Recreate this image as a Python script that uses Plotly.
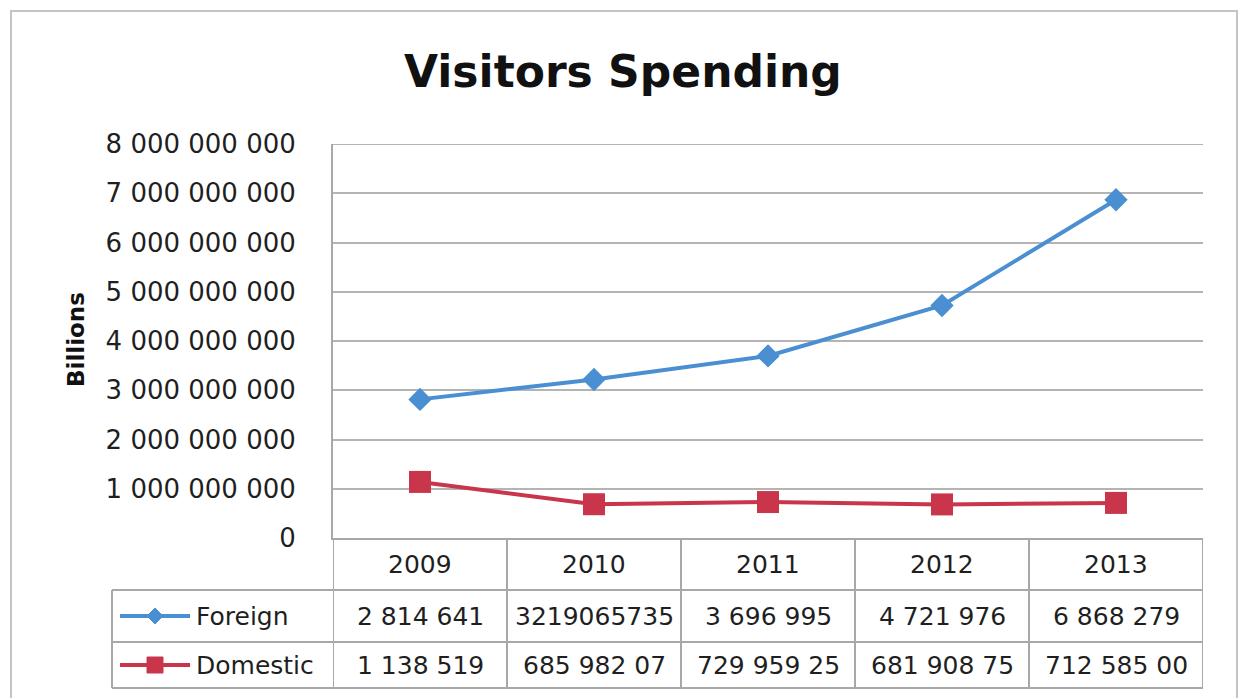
import plotly.graph_objects as go

# ---- data -------------------------------------------------------------
years = ["2009", "2010", "2011", "2012", "2013"]
foreign = [2814641000, 3219065735, 3696995000, 4721976000, 6868279000]
domestic = [1138519000, 685982070, 729959250, 681908750, 712585000]

# values as printed in the data table under the chart
foreign_table = ["2 814 641", "3219065735", "3 696 995", "4 721 976", "6 868 279"]
domestic_table = ["1 138 519", "685 982 07", "729 959 25", "681 908 75", "712 585 00"]

series_names = ["Foreign", "Domestic"]
y_ticks = [0, 1e9, 2e9, 3e9, 4e9, 5e9, 6e9, 7e9, 8e9]

# ---- layout geometry ---------------------------------------------------
W, H = 1240, 698
M_L, M_R, M_T, M_B = 333, 37, 144, 160
PW = W - M_L - M_R
PH = H - M_T - M_B


def px_x(p):
    """pixel column -> paper x"""
    return (p - M_L) / PW


def px_y(p):
    """pixel row -> paper y"""
    return (H - M_B - p) / PH


BLUE = "#4a8fd1"
RED = "#c9364b"
GRID = "#b4b4b4"
BORDER = "#a8a8a8"
TXT = "#1f1f1f"
FONT = "DejaVu Sans"

fig = go.Figure()
fig.add_trace(go.Scatter(
    x=years, y=foreign, name=series_names[0], mode="lines+markers",
    line=dict(color=BLUE, width=4),
    marker=dict(symbol="diamond", size=18, color=BLUE),
    cliponaxis=False,
))
fig.add_trace(go.Scatter(
    x=years, y=domestic, name=series_names[1], mode="lines+markers",
    line=dict(color=RED, width=4),
    marker=dict(symbol="square", size=22, color=RED),
    cliponaxis=False,
))

shapes = []
annotations = []

# top gridline (at the upper end of the value range)
shapes.append(dict(type="line", xref="paper", yref="y", x0=0, x1=1,
                   y0=y_ticks[-1], y1=y_ticks[-1],
                   line=dict(color=GRID, width=2), layer="below"))

# table rows (pixel rows of the row borders)
ROW_TOP = H - M_B          # header row starts at the x axis line
ROW_1 = 590
ROW_2 = 642
ROW_BOT = 688
TABLE_LEFT = 112

# vertical cell borders at category boundaries
for i in range(len(years) + 1):
    shapes.append(dict(type="line", xref="x", yref="paper",
                       x0=i - 0.5, x1=i - 0.5, y0=px_y(ROW_TOP), y1=px_y(ROW_BOT),
                       line=dict(color=BORDER, width=2)))
# left border of the series-name column
shapes.append(dict(type="line", xref="paper", yref="paper",
                   x0=px_x(TABLE_LEFT), x1=px_x(TABLE_LEFT),
                   y0=px_y(ROW_1), y1=px_y(ROW_BOT),
                   line=dict(color=BORDER, width=2)))
# horizontal borders
for r in (ROW_1, ROW_2, ROW_BOT):
    shapes.append(dict(type="line", xref="paper", yref="paper",
                       x0=px_x(TABLE_LEFT), x1=1, y0=px_y(r), y1=px_y(r),
                       line=dict(color=BORDER, width=2)))

# header row: years
for i, yr in enumerate(years):
    annotations.append(dict(x=i, y=px_y((ROW_TOP + ROW_1) / 2), xref="x", yref="paper",
                            text=yr, showarrow=False, xanchor="center", yanchor="middle",
                            font=dict(family=FONT, size=25, color=TXT)))

# data rows
rows = [(foreign_table, (ROW_1 + ROW_2) / 2, BLUE, "diamond"),
        (domestic_table, (ROW_2 + ROW_BOT) / 2, RED, "square")]
for (texts, yc, col, sym), name in zip(rows, series_names):
    for i, t in enumerate(texts):
        annotations.append(dict(x=i, y=px_y(yc), xref="x", yref="paper",
                                text=t, showarrow=False, xanchor="center", yanchor="middle",
                                font=dict(family=FONT, size=25, color=TXT)))
    # legend key: line with marker
    shapes.append(dict(type="line", xref="paper", yref="paper",
                       x0=px_x(120), x1=px_x(190), y0=px_y(yc), y1=px_y(yc),
                       line=dict(color=col, width=4)))
    cx, cy = 155, yc
    if sym == "diamond":
        r = 8
        path = "M {},{} L {},{} L {},{} L {},{} Z".format(
            px_x(cx - r), px_y(cy), px_x(cx), px_y(cy - r),
            px_x(cx + r), px_y(cy), px_x(cx), px_y(cy + r))
        shapes.append(dict(type="path", xref="paper", yref="paper", path=path,
                           fillcolor=col, line=dict(color=col, width=1)))
    else:
        r = 8
        shapes.append(dict(type="rect", xref="paper", yref="paper",
                           x0=px_x(cx - r), x1=px_x(cx + r),
                           y0=px_y(cy + r), y1=px_y(cy - r),
                           fillcolor=col, line=dict(color=col, width=1)))
    annotations.append(dict(x=px_x(194), y=px_y(yc), xref="paper", yref="paper",
                            text=name, showarrow=False, xanchor="left", yanchor="middle",
                            font=dict(family=FONT, size=25, color=TXT)))

# y axis title
annotations.append(dict(x=px_x(76), y=px_y(340), xref="paper", yref="paper",
                        text="<b>Billions</b>", showarrow=False, textangle=-90,
                        xanchor="center", yanchor="middle",
                        font=dict(family=FONT, size=23, color="#111111")))

# chart title
annotations.append(dict(x=px_x(623), y=px_y(72), xref="paper", yref="paper",
                        text="<b>Visitors Spending</b>", showarrow=False,
                        xanchor="center", yanchor="middle",
                        font=dict(family=FONT, size=44, color="#111111")))

# outer chart frame
shapes.append(dict(type="rect", xref="paper", yref="paper",
                   x0=px_x(11), x1=px_x(1237), y0=px_y(702), y1=px_y(11),
                   line=dict(color="#c4c4c4", width=2), layer="below"))

fig.update_layout(
    width=W, height=H,
    margin=dict(l=M_L, r=M_R, t=M_T, b=M_B, autoexpand=False),
    paper_bgcolor="white", plot_bgcolor="white",
    separators=". ",
    showlegend=False,
    shapes=shapes,
    annotations=annotations,
    xaxis=dict(type="category", range=[-0.5, 4.5], showticklabels=False,
               showgrid=False, zeroline=False, showline=True,
               linecolor=BORDER, linewidth=2, ticks=""),
    yaxis=dict(range=[0, 8e9], tickvals=y_ticks, tickformat=",d",
               showgrid=True, gridcolor=GRID, gridwidth=2,
               zeroline=False, showline=True, linecolor=BORDER, linewidth=2,
               ticks="", ticklabelstandoff=30,
               tickfont=dict(family=FONT, size=26, color=TXT)),
)

fig.write_html("out.html")
